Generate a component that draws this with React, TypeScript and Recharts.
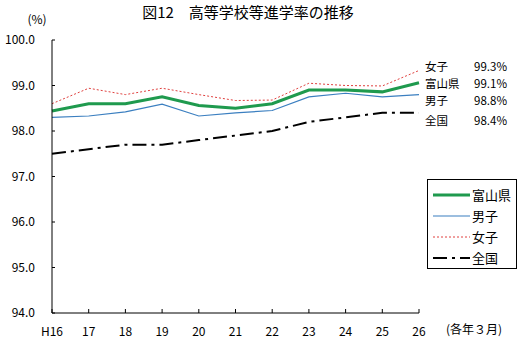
import { LabelList, Line, LineChart, XAxis, YAxis } from "recharts"

const years = ["H16", "17", "18", "19", "20", "21", "22", "23", "24", "25", "26"]
const toyama = [98.44, 98.6, 98.6, 98.75, 98.56, 98.5, 98.6, 98.9, 98.9, 98.86, 99.06]
const boys = [98.3, 98.33, 98.42, 98.59, 98.33, 98.4, 98.45, 98.75, 98.83, 98.75, 98.8]
const girls = [98.6, 98.94, 98.8, 98.94, 98.8, 98.67, 98.68, 99.05, 99.0, 98.99, 99.33]
const national = [97.5, 97.6, 97.7, 97.7, 97.8, 97.9, 98.0, 98.2, 98.3, 98.4, 98.4]
const yTicks = [94, 95, 96, 97, 98, 99, 100]

const endLabels = { toyama: "99.1%", boys: "98.8%", girls: "99.3%", national: "98.4%" }

const data = years.map((year, i) => ({
  year,
  toyama: toyama[i],
  boys: boys[i],
  girls: girls[i],
  national: national[i],
}))

const font = "'Noto Sans CJK JP', sans-serif"

const series = [
  { key: "toyama", name: "富山県", color: "#1f9a4e", width: 3, dash: undefined, dy: 2 },
  { key: "boys", name: "男子", color: "#3b7fc0", width: 1.2, dash: undefined, dy: 7 },
  { key: "girls", name: "女子", color: "#e0413f", width: 1, dash: "2 2", dy: -3 },
  { key: "national", name: "全国", color: "#000000", width: 2, dash: "14 5 3 5", dy: 9 },
] as const

function endLabel(name: string, value: string, dy: number) {
  return (props: any) => {
    const { x, y, index } = props
    if (index !== years.length - 1) return null
    return (
      <g fontFamily={font} fontSize={11.5} fill="#000">
        <text x={x + 6} y={y + dy} dominantBaseline="middle">
          {name}
        </text>
        <text x={x + 88} y={y + dy} textAnchor="end" dominantBaseline="middle">
          {value}
        </text>
      </g>
    )
  }
}

export default function App() {
  return (
    <div style={{ position: "absolute", left: 0, top: 0, width: 523, height: 353, background: "#fff" }}>
      <LineChart width={523} height={353} data={data} margin={{ top: 40, right: 104, bottom: 0, left: 0 }}>
        <text x={248} y={14} textAnchor="middle" dominantBaseline="middle" fontFamily={font} fontSize={15} fill="#000">
          図12　高等学校等進学率の推移
        </text>
        <text x={37} y={21} textAnchor="middle" dominantBaseline="middle" fontFamily={font} fontSize={12} fill="#000">
          (%)
        </text>
        <text x={474} y={331} textAnchor="middle" dominantBaseline="middle" fontFamily={font} fontSize={12} fill="#000">
          (各年３月)
        </text>
        <XAxis
          dataKey="year"
          height={40}
          interval={0}
          stroke="#000"
          tickSize={-4}
          tickMargin={18}
          tick={{ fill: "#000", fontSize: 12, fontFamily: font }}
        />
        <YAxis
          width={52}
          domain={[94, 100]}
          ticks={yTicks}
          interval={0}
          stroke="#000"
          tickSize={-3}
          tickMargin={20}
          tickFormatter={(v: number) => v.toFixed(1)}
          tick={{ fill: "#000", fontSize: 12, fontFamily: font }}
        />
        {series.map((s) => (
          <Line
            key={s.key}
            dataKey={s.key}
            name={s.name}
            stroke={s.color}
            strokeWidth={s.width}
            strokeDasharray={s.dash}
            dot={false}
            type="linear"
            isAnimationActive={false}
          >
            <LabelList dataKey={s.key} content={endLabel(s.name, endLabels[s.key], s.dy)} />
          </Line>
        ))}
      </LineChart>
      <div
        style={{
          position: "absolute",
          left: 427,
          top: 179,
          width: 90,
          height: 90,
          border: "1px solid #000",
          background: "#fff",
          fontFamily: font,
          fontSize: 13,
          boxSizing: "border-box",
          paddingTop: 4,
        }}
      >
        {series.map((s) => (
          <div key={s.key} style={{ display: "flex", alignItems: "center", height: 21 }}>
            <svg width={40} height={10} style={{ marginLeft: 4 }}>
              <line x1={1} y1={5} x2={38} y2={5} stroke={s.color} strokeWidth={s.width} strokeDasharray={s.dash} />
            </svg>
            <span>{s.name}</span>
          </div>
        ))}
      </div>
    </div>
  )
}
